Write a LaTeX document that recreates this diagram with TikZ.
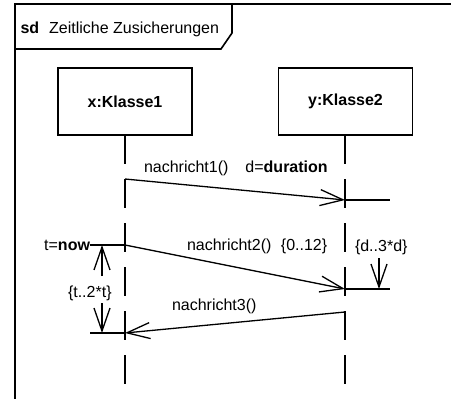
\documentclass[tikz,border=0pt]{standalone}
\usepackage{fontspec}
\setmainfont{Liberation Sans}
\usetikzlibrary{arrows.meta}
\begin{document}
\begin{tikzpicture}[x=1pt,y=-1pt,
  lbl/.style={font=\fontsize{16}{19}\selectfont, inner sep=0pt, outer sep=0pt},
  obj/.style={draw, line width=1.6pt, minimum width=134pt, minimum height=67pt,
    font=\fontsize{16}{19}\selectfont\bfseries, inner sep=0pt},
  frameline/.style={line width=1.6pt},
  msg/.style={line width=1.3pt, -{Straight Barb[length=23pt,width=16pt]}},
  life/.style={line width=1.3pt, dash pattern=on 29pt off 15pt},
  plain/.style={line width=1.3pt}
]
\useasboundingbox (0,0) rectangle (451,399);

% frame and title tab
\draw[frameline] (451,4) -- (15,4) -- (15,399);
\draw[frameline] (15,49) -- (221,49) -- (232,33) -- (232,4);
\node[lbl, anchor=base west] (title) at (20.5,33) {\textbf{sd}\hspace{10pt}Zeitliche Zusicherungen};

% objects
\node[obj] (o1) at (125,101.5) {x:Klasse1};
\node[obj] (o2) at (345.5,101.5) {y:Klasse2};

% lifelines
\coordinate (l1s) at (125,135);
\coordinate (l1e) at (125,385);
\coordinate (l2s) at (345,135);
\coordinate (l2e) at (345,385);
\draw[life] (l1s) -- (l1e);
\draw[life] (l2s) -- (l2e);

% message 1
\coordinate (m1s) at (125,179);
\coordinate (m1e) at (345,200);
\coordinate (m1x) at (390,200);
\draw[msg] (m1s) -- (m1e);
\draw[plain] (m1e) -- (m1x);
\node[lbl, anchor=base west] (n1) at (144,172) {nachricht1()\hspace{17pt}d=\textbf{duration}};

% message 2
\coordinate (m2a) at (90,245);
\coordinate (m2s) at (125,245);
\coordinate (m2e) at (345,289);
\coordinate (m2x) at (390,289);
\draw[plain] (m2a) -- (m2s);
\draw[msg] (m2s) -- (m2e);
\draw[plain] (m2e) -- (m2x);
\node[lbl, anchor=base east] (now) at (90,250.5) {t=\textbf{now}};
\node[lbl, anchor=base west] (n2) at (187,250.5) {nachricht2()\hspace{9.5pt}\{0..12\}};

% message 3
\coordinate (m3s) at (345,312);
\coordinate (m3e) at (125,333);
\coordinate (m3a) at (90,333);
\draw[msg] (m3s) -- (m3e);
\draw[plain] (m3a) -- (m3e);
\node[lbl, anchor=base west] (n3) at (172,310) {nachricht3()};

% duration constraint t..2*t
\coordinate (t1) at (102,245);
\coordinate (t1b) at (102,276);
\coordinate (t2) at (102,303);
\coordinate (t2b) at (102,333);
\draw[msg] (t1b) -- (t1);
\draw[msg] (t2) -- (t2b);
\node[lbl, anchor=base west] (tc) at (68,297) {\{t..2*t\}};

% duration constraint d..3*d
\coordinate (d1) at (379,258);
\coordinate (d1b) at (379,289);
\draw[msg] (d1) -- (d1b);
\node[lbl, anchor=base west] (dc) at (355,251) {\{d..3*d\}};
\end{tikzpicture}
\end{document}
